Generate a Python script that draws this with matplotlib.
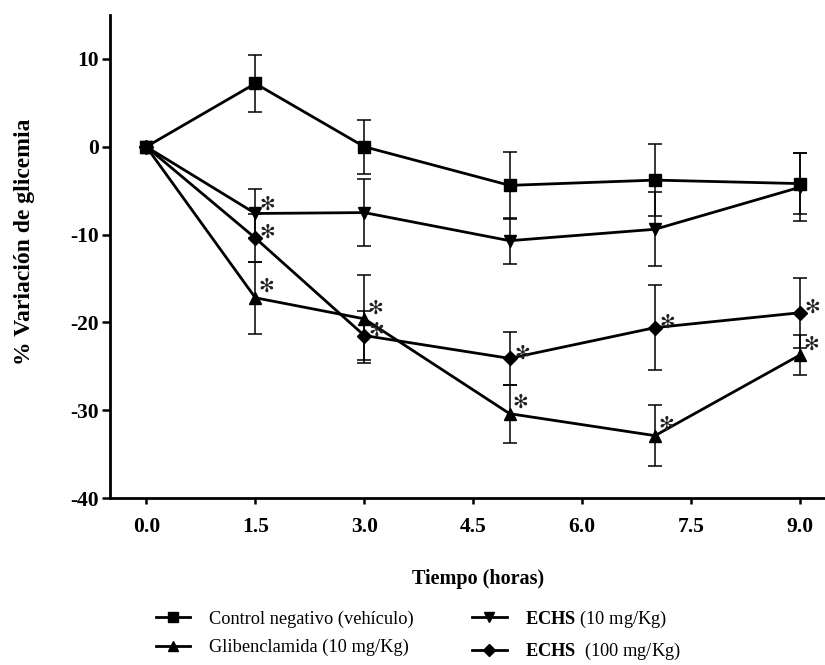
import matplotlib
matplotlib.use("Agg")
import matplotlib.pyplot as plt
from matplotlib.lines import Line2D

# ---- data ----
time_h = [0, 1.5, 3, 5, 7, 9]
x_ticks = [0.0, 1.5, 3.0, 4.5, 6.0, 7.5, 9.0]
x_tick_labels = ["0.0", "1.5", "3.0", "4.5", "6.0", "7.5", "9.0"]
y_ticks = [-40, -30, -20, -10, 0, 10]

control = [0, 7.2, 0, -4.4, -3.8, -4.2]
control_err = [0, 3.2, 3.1, 3.8, 4.1, 3.5]
control_sig = [False, False, False, False, False, False]

echs10 = [0, -7.6, -7.5, -10.7, -9.4, -4.6]
echs10_err = [0, 2.8, 3.8, 2.6, 4.2, 3.9]
echs10_sig = [False, True, False, False, False, False]

glib = [0, -17.2, -19.6, -30.4, -32.9, -23.7]
glib_err = [0, 4.1, 5.0, 3.3, 3.5, 2.3]
glib_sig = [False, True, True, True, True, True]

echs100 = [0, -10.4, -21.5, -24.1, -20.6, -18.9]
echs100_err = [0, 2.7, 2.8, 3.05, 4.85, 4.0]
echs100_sig = [False, True, True, True, True, True]

labels = ["Control negativo (vehículo)", "Glibenclamida (10 mg/Kg)",
          r"$\mathbf{ECHS}$ (10 mg/Kg)", r"$\mathbf{ECHS}$  (100 mg/Kg)"]

plt.rcParams['font.family'] = ['Liberation Serif', 'DejaVu Sans']
plt.rcParams['mathtext.fontset'] = 'custom'
plt.rcParams['mathtext.rm'] = 'Liberation Serif'
plt.rcParams['mathtext.bf'] = 'Liberation Serif:bold'
plt.rcParams['axes.unicode_minus'] = False

fig = plt.figure(figsize=(8.25, 6.65), dpi=100)
W, H = 825, 665
ax = fig.add_axes([110 / W, 1 - 498 / H, 715 / W, 483 / H])

# (values, errors, significance, marker, asterisk offset in points)
series = [
    (control, control_err, control_sig, 's', (8.5, 7)),
    (glib, glib_err, glib_sig, '^', (8, 8)),
    (echs10, echs10_err, echs10_sig, 'v', (9, 7)),
    (echs100, echs100_err, echs100_sig, 'D', (9, 4)),
]
msize = {'s': 8.5, '^': 9, 'v': 9, 'D': 7.5}

handles = []
for vals, errs, sig, mk, off in series:
    ax.errorbar(time_h, vals, yerr=errs, fmt='none', ecolor='black',
                elinewidth=1.1, capsize=4.8, capthick=1.1, zorder=2)
    ax.plot(time_h, vals, color='black', lw=2.0, marker=mk,
            markersize=msize[mk], zorder=3, clip_on=False)
    for t, v, s in zip(time_h, vals, sig):
        if s:
            ax.annotate("✻", (t, v), xytext=off, textcoords='offset points',
                        ha='center', va='center', fontsize=13.5, color='#222222',
                        family=['DejaVu Sans'], zorder=4)
    handles.append(Line2D([], [], color='black', lw=2.0, marker=mk,
                          markersize=msize[mk] * 0.85))

ax.set_xlim(-0.5, 9.34)
ax.set_ylim(-40, 15)
ax.set_xticks(x_ticks)
ax.set_xticklabels(x_tick_labels)
ax.set_yticks(y_ticks)
for sp in ['top', 'right']:
    ax.spines[sp].set_visible(False)
for sp in ['left', 'bottom']:
    ax.spines[sp].set_linewidth(2.0)
ax.tick_params(axis='x', direction='out', length=4.5, width=1.8, labelsize=15.5, pad=9)
ax.tick_params(axis='y', direction='out', length=6, width=1.8, labelsize=15.5, pad=2)
for lab in ax.get_xticklabels() + ax.get_yticklabels():
    lab.set_fontweight('bold')

ax.set_xlabel("Tiempo (horas)", fontsize=14.5, fontweight='bold')
ax.xaxis.set_label_coords(0.515, -0.147)
ax.set_ylabel("% Variación de glicemia", fontsize=17, fontweight='bold')
ax.yaxis.set_label_coords(-0.105, 0.53)

fig.legend(handles, labels, ncol=2, loc='upper left',
           bbox_to_anchor=(139 / W, 1 - 592 / H), frameon=False,
           fontsize=13.2, handlelength=1.9, handletextpad=1.0,
           columnspacing=3.2, labelspacing=0.62)

fig.savefig("out.png", dpi=100)
